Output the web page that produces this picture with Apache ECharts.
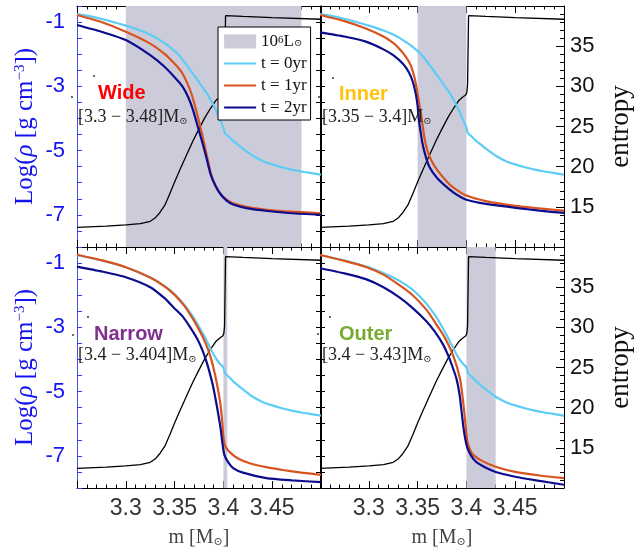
<!DOCTYPE html>
<html><head><meta charset="utf-8">
<script src="https://cdn.jsdelivr.net/npm/echarts@6/dist/echarts.min.js"></script>
<style>html,body{margin:0;padding:0;background:#fff}#c{width:636px;height:550px}</style>
</head><body><div id="c"></div>
<script>
// ---------------- DATA ----------------
const massMin = 3.25, massMax = 3.5;
const xTickLabels = [3.3, 3.35, 3.4, 3.45];
const rhoLabels = [-7, -5, -3, -1];
const entropyLabels = [15, 20, 25, 30, 35];

const panelNames = ['Wide', 'Inner', 'Narrow', 'Outer'];
const panelRanges = ['[3.3 − 3.48]', '[3.35 − 3.4]', '[3.4 − 3.404]', '[3.4 − 3.43]'];
const shadeStart = [3.3, 3.35, 3.4, 3.4];
const shadeEnd = [3.48, 3.4, 3.404, 3.43];
const seriesNames = ['t = 0yr', 't = 1yr', 't = 2yr'];
const shadeName = '10^6 L';

// t = 0 yr density profile, top row
const rhoT0Top = [[3.25,-0.75],[3.26,-0.8],[3.275,-0.9],[3.29,-1.02],[3.30,-1.11],[3.315,-1.26],[3.325,-1.39],[3.335,-1.56],[3.345,-1.77],[3.355,-2.05],[3.365,-2.45],[3.375,-2.87],[3.383,-3.22],[3.39,-3.6],[3.395,-3.93],[3.4,-4.28],[3.4015,-4.45],[3.405,-4.55],[3.41,-4.7],[3.42,-4.94],[3.43,-5.16],[3.44,-5.32],[3.45,-5.43],[3.46,-5.52],[3.47,-5.59],[3.48,-5.65],[3.49,-5.7],[3.5,-5.75]];
// t = 0 yr density profile, bottom row
const rhoT0Bottom = [[3.25,-0.75],[3.275,-0.92],[3.30,-1.13],[3.325,-1.45],[3.34,-1.72],[3.35,-1.97],[3.36,-2.3],[3.37,-2.72],[3.375,-2.98],[3.38,-3.25],[3.385,-3.55],[3.39,-3.85],[3.395,-4.08],[3.4,-4.25],[3.4015,-4.42],[3.405,-4.52],[3.41,-4.68],[3.42,-4.93],[3.43,-5.16],[3.44,-5.32],[3.45,-5.43],[3.46,-5.52],[3.47,-5.59],[3.48,-5.65],[3.49,-5.7],[3.5,-5.75]];

// entropy profile (initial model)
const entropy = [[3.25,12.45],[3.28,12.6],[3.30,12.75],[3.315,12.9],[3.325,13.2],[3.33,13.6],[3.335,14.3],[3.34,15.2],[3.345,16.6],[3.35,18.1],[3.355,19.5],[3.362,21.4],[3.369,23.25],[3.375,24.7],[3.381,26.1],[3.387,27.3],[3.392,28.2],[3.396,28.65],[3.3995,28.95],[3.4005,29.3],[3.4012,30.2],[3.4022,38.8],[3.42,38.7],[3.45,38.55],[3.5,38.35]];

const wideT1 = [[3.25,-0.78],[3.275,-1.0],[3.30,-1.30],[3.325,-1.67],[3.34,-2.0],[3.35,-2.3],[3.357,-2.55],[3.363,-2.9],[3.368,-3.3],[3.373,-3.85],[3.378,-4.47],[3.383,-5.15],[3.388,-5.8],[3.392,-6.1],[3.397,-6.35],[3.403,-6.52],[3.41,-6.64],[3.425,-6.76],[3.445,-6.84],[3.47,-6.9],[3.5,-6.95]];
const wideT2 = [[3.25,-1.09],[3.275,-1.3],[3.30,-1.56],[3.325,-2.03],[3.34,-2.4],[3.35,-2.72],[3.358,-3.0],[3.364,-3.34],[3.369,-3.75],[3.374,-4.28],[3.378,-4.7],[3.382,-5.15],[3.387,-5.75],[3.392,-6.1],[3.397,-6.35],[3.403,-6.55],[3.41,-6.68],[3.425,-6.8],[3.445,-6.88],[3.47,-6.95],[3.5,-7.0]];

const innerT1 = [[3.25,-0.78],[3.275,-0.97],[3.297,-1.2],[3.315,-1.45],[3.325,-1.65],[3.331,-1.82],[3.338,-2.08],[3.343,-2.35],[3.347,-2.75],[3.35,-3.22],[3.352,-3.6],[3.354,-3.97],[3.357,-4.6],[3.36,-5.0],[3.364,-5.3],[3.37,-5.6],[3.382,-6.03],[3.39,-6.22],[3.4,-6.4],[3.42,-6.57],[3.45,-6.72],[3.475,-6.8],[3.5,-6.87]];
const innerT2 = [[3.25,-1.32],[3.275,-1.45],[3.297,-1.61],[3.315,-1.85],[3.325,-2.03],[3.335,-2.3],[3.341,-2.56],[3.345,-2.85],[3.348,-3.22],[3.35,-3.6],[3.351,-3.97],[3.353,-4.4],[3.355,-4.78],[3.358,-5.15],[3.362,-5.5],[3.37,-5.85],[3.382,-6.19],[3.39,-6.37],[3.4,-6.53],[3.42,-6.66],[3.45,-6.78],[3.475,-6.87],[3.5,-6.94]];

const narrowT1 = [[3.25,-0.74],[3.275,-0.91],[3.30,-1.13],[3.325,-1.45],[3.34,-1.73],[3.35,-1.99],[3.36,-2.33],[3.37,-2.8],[3.379,-3.31],[3.385,-3.75],[3.389,-4.16],[3.393,-4.7],[3.397,-5.4],[3.399,-6.0],[3.4,-6.4],[3.402,-6.7],[3.407,-6.9],[3.415,-7.08],[3.427,-7.23],[3.445,-7.36],[3.461,-7.44],[3.48,-7.52],[3.5,-7.59]];
const narrowT2 = [[3.25,-1.11],[3.275,-1.26],[3.30,-1.44],[3.325,-1.75],[3.34,-2.1],[3.349,-2.38],[3.358,-2.65],[3.366,-3.0],[3.373,-3.35],[3.379,-3.75],[3.384,-4.2],[3.389,-4.78],[3.393,-5.4],[3.397,-6.12],[3.399,-6.6],[3.401,-6.97],[3.405,-7.2],[3.41,-7.38],[3.42,-7.52],[3.444,-7.69],[3.47,-7.76],[3.5,-7.82]];

const outerT1 = [[3.25,-0.75],[3.275,-0.93],[3.297,-1.12],[3.315,-1.36],[3.331,-1.68],[3.345,-2.0],[3.359,-2.45],[3.368,-2.85],[3.376,-3.22],[3.381,-3.5],[3.386,-3.84],[3.39,-4.2],[3.394,-4.69],[3.397,-5.4],[3.399,-6.0],[3.401,-6.56],[3.404,-6.82],[3.407,-6.97],[3.415,-7.14],[3.43,-7.34],[3.45,-7.5],[3.475,-7.61],[3.5,-7.69]];
const outerT2 = [[3.25,-1.16],[3.275,-1.32],[3.297,-1.5],[3.315,-1.75],[3.331,-2.06],[3.345,-2.4],[3.359,-2.81],[3.368,-3.15],[3.376,-3.53],[3.381,-3.85],[3.386,-4.25],[3.39,-4.62],[3.393,-5.09],[3.395,-5.6],[3.397,-6.12],[3.399,-6.5],[3.401,-6.75],[3.405,-7.0],[3.41,-7.19],[3.42,-7.37],[3.43,-7.5],[3.45,-7.65],[3.475,-7.78],[3.5,-7.9]];

const panelT0 = [rhoT0Top, rhoT0Top, rhoT0Bottom, rhoT0Bottom];
const panelT1 = [wideT1, innerT1, narrowT1, outerT1];
const panelT2 = [wideT2, innerT2, narrowT2, outerT2];

// ---------------- STYLE / LAYOUT ----------------
const SERIF = '"Liberation Serif","DejaVu Serif",serif';
const SANS = '"Liberation Sans",Arial,sans-serif';
const lineColors = ['#5dcdf6', '#d9531e', '#0c0c8e'];
const shadeColor = '#cbcbd9';
const labelColors = ['#ff0000', '#ffc20e', '#7e2f8e', '#77ac30'];
const blue = '#1414ee';
const gridPos = [
  {left: 77, top: 6}, {left: 320, top: 6},
  {left: 77, top: 247}, {left: 320, top: 247}
];
const labelPos = [[98, 93, 78, 117], [339, 94, 322, 117], [94, 334, 78, 355], [339, 334, 322, 355]];
const dotPos = [[[94, 76], [72, 97]], [[333, 78], [319, 97]], [[88, 317], [73, 335]], [[330, 317], [318, 334]]];

const grids = [], xAxes = [], yAxes = [], series = [], graphics = [];
const tickStyle = {color: '#000', width: 1};

for (let i = 0; i < 4; i++) {
  const isLeft = (i % 2 === 0), isBottom = (i >= 2);
  const g = gridPos[i];
  grids.push({left: g.left, top: g.top, width: 244, height: 241, containLabel: false});
  const xBase = {
    type: 'value', gridIndex: i, min: massMin, max: massMax, interval: 0.05,
    splitLine: {show: false},
    axisLine: {show: true, onZero: false, lineStyle: {color: '#000', width: 1}},
    axisTick: {show: true, inside: true, length: 7, lineStyle: tickStyle},
    minorTick: {show: true, splitNumber: 5, length: 3.5, lineStyle: tickStyle}
  };
  xAxes.push(Object.assign({}, xBase, {
    position: 'bottom',
    axisLabel: {show: isBottom, fontFamily: SANS, fontSize: 23, color: '#333', margin: 9,
      showMinLabel: false, showMaxLabel: false,
      formatter: v => xTickLabels.some(t => Math.abs(t - v) < 1e-6) ? String(+v.toFixed(2)) : ''},
    name: isBottom ? 'm [M{sub|⊙}]' : '', nameLocation: 'middle', nameGap: 40,
    nameTextStyle: {fontFamily: SERIF, fontSize: 20, color: '#444',
      rich: {sub: {fontFamily: 'DejaVu Serif', fontSize: 11, color: '#444', verticalAlign: 'bottom', padding: [8, 0, 0, 0]}}}
  }));
  xAxes.push(Object.assign({}, xBase, {position: 'top', axisLabel: {show: false}}));

  const rhoBase = {
    type: 'value', gridIndex: i, min: -8, max: -0.5, interval: 0.5,
    splitLine: {show: false},
    axisTick: {show: true, inside: true, length: 5, lineStyle: tickStyle}
  };
  const rhoIdx = yAxes.length;
  yAxes.push(Object.assign({}, rhoBase, {
    position: 'left',
    axisLine: {show: true, onZero: false, lineStyle: {color: isLeft ? '#4b4bee' : '#000', width: 1}},
    axisTick: {show: true, inside: true, length: 5, lineStyle: {color: isLeft ? '#3b3be8' : '#000', width: 1}},
    axisLabel: {show: isLeft, fontFamily: SANS, fontSize: 22, color: blue, margin: 12,
      formatter: v => rhoLabels.indexOf(v) >= 0 ? String(v) : ''}
  }));
  if (isLeft) {
    yAxes.push(Object.assign({}, rhoBase, {
      position: 'right',
      axisLine: {show: true, onZero: false, lineStyle: {color: '#000', width: 1}},
      axisLabel: {show: false}
    }));
  }
  const entIdx = yAxes.length;
  yAxes.push({
    type: 'value', gridIndex: i, position: 'right', min: 10, max: 40, interval: 5,
    show: !isLeft,
    splitLine: {show: false},
    axisLine: {show: true, onZero: false, lineStyle: {color: '#000', width: 1}},
    axisTick: {show: true, inside: true, length: 8, lineStyle: tickStyle},
    minorTick: {show: true, splitNumber: 5, length: 4, lineStyle: tickStyle},
    axisLabel: {show: true, fontFamily: SANS, fontSize: 22, color: '#111', margin: 6,
      formatter: v => entropyLabels.indexOf(v) >= 0 ? String(v) : ''}
  });

  // axis titles (rotated)
  const midY = g.top + 120.5;
  if (isLeft) {
    graphics.push({type: 'text', x: 25, y: midY, rotation: Math.PI / 2, z: 100,
      style: {text: 'Log({it|ρ} [g cm{sup|−3}])', fill: blue, fontFamily: SERIF, fontSize: 25,
        align: 'center', verticalAlign: 'middle',
        rich: {
          it: {fontFamily: SERIF, fontSize: 25, fontStyle: 'italic', fill: blue},
          sup: {fontFamily: SERIF, fontSize: 15, fill: blue, verticalAlign: 'top', padding: [0, 0, 10, 0]}
        }}});
  } else {
    graphics.push({type: 'text', x: 621, y: midY, rotation: Math.PI / 2, z: 100,
      style: {text: 'entropy', fill: '#111', fontFamily: SERIF, fontSize: 27,
        align: 'center', verticalAlign: 'middle'}});
  }

  // shaded luminosity window
  series.push({
    type: 'line', name: shadeName, xAxisIndex: 2 * i, yAxisIndex: rhoIdx, data: [],
    symbol: 'none', itemStyle: {color: shadeColor}, lineStyle: {color: shadeColor}, z: 1,
    markArea: {silent: true, itemStyle: {color: shadeColor, opacity: 1},
      data: [[{xAxis: shadeStart[i]}, {xAxis: shadeEnd[i]}]]}
  });
  series.push({
    type: 'line', name: 'entropy', xAxisIndex: 2 * i, yAxisIndex: entIdx, data: entropy,
    symbol: 'none', lineStyle: {color: '#000', width: 1.3}, itemStyle: {color: '#000'}, z: 3
  });
  const profiles = [panelT0[i], panelT1[i], panelT2[i]];
  profiles.forEach((d, k) => {
    series.push({
      type: 'line', name: seriesNames[k], xAxisIndex: 2 * i, yAxisIndex: rhoIdx, data: d,
      symbol: 'none', smooth: 0.2,
      lineStyle: {color: lineColors[k], width: 2.2}, itemStyle: {color: lineColors[k]}, z: 4 + k
    });
  });

  const lp = labelPos[i];
  graphics.push({type: 'text', x: lp[0], y: lp[1], z: 100,
    style: {text: panelNames[i], fill: labelColors[i], fontFamily: SANS, fontWeight: 'bold', fontSize: 20, verticalAlign: 'middle'}});
  graphics.push({type: 'text', x: lp[2], y: lp[3], z: 100,
    style: {text: panelRanges[i] + 'M{sub|⊙}', fill: '#222', fontFamily: SERIF, fontSize: 18, verticalAlign: 'middle',
      rich: {sub: {fontFamily: 'DejaVu Serif', fontSize: 10, fill: '#222', verticalAlign: 'bottom', padding: [7, 0, 0, 0]}}}});
  dotPos[i].forEach(p => graphics.push({type: 'circle', z: 100, shape: {cx: p[0], cy: p[1], r: 0.9}, style: {fill: '#222'}}));
}

const chart = echarts.init(document.getElementById('c'), null, {renderer: 'canvas'});
chart.setOption({
  animation: false,
  backgroundColor: '#fff',
  grid: grids, xAxis: xAxes, yAxis: yAxes, series: series,
  graphic: graphics,
  legend: {
    left: 218, top: 27, orient: 'vertical', itemWidth: 32, itemHeight: 14, itemGap: 5,
    padding: [6, 4, 4, 5], backgroundColor: '#fff', borderColor: '#000', borderWidth: 1, borderRadius: 0,
    itemStyle: {opacity: 0},
    lineStyle: {width: 2.2},
    data: [{name: shadeName, icon: 'rect', itemStyle: {opacity: 1, color: shadeColor}},
      seriesNames[0], seriesNames[1], seriesNames[2]],
    formatter: n => n === shadeName ? '10{sup|6}L{sub|⊙}' : n,
    textStyle: {fontFamily: SERIF, fontSize: 17, color: '#111', lineHeight: 14, padding: [0, 0, 0, 0],
      rich: {
        sup: {fontFamily: SERIF, fontSize: 11, color: '#111', verticalAlign: 'top', padding: [0, 0, 6, 0]},
        sub: {fontFamily: 'DejaVu Serif', fontSize: 10, color: '#111', verticalAlign: 'bottom', padding: [6, 0, 0, 0]}
      }},
    z: 50, selectedMode: false
  }
});
</script></body></html>
